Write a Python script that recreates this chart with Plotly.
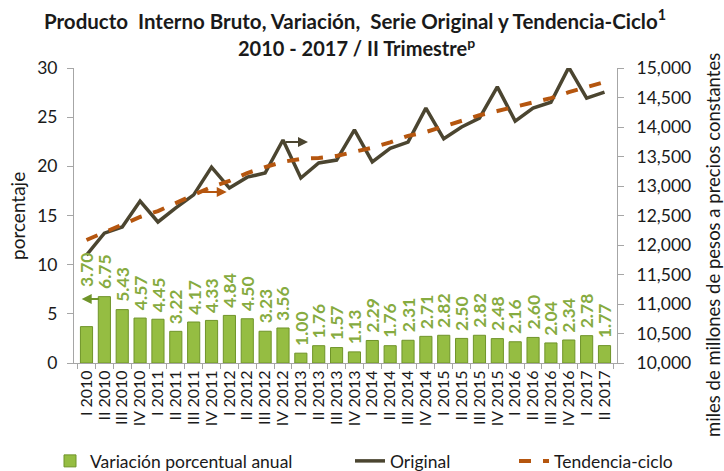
import plotly.graph_objects as go

quarters = ["I", "II", "III", "IV"]
categories = [f"{q} {y}" for y in range(2010, 2018) for q in quarters][:30]

variacion = [3.70, 6.75, 5.43, 4.57, 4.45, 3.22, 4.17, 4.33, 4.84, 4.50,
             3.23, 3.56, 1.00, 1.76, 1.57, 1.13, 2.29, 1.76, 2.31, 2.71,
             2.82, 2.50, 2.82, 2.48, 2.16, 2.60, 2.04, 2.34, 2.78, 1.77]

original = [11830, 12200, 12305, 12745, 12390, 12630, 12850, 13320, 12965, 13150,
            13220, 13780, 13135, 13390, 13440, 13950, 13410, 13640, 13745, 14320,
            13800, 14000, 14150, 14680, 14100, 14320, 14420, 15010, 14490, 14590]

tendencia = [12085, 12220, 12340, 12475, 12575, 12710, 12850, 12985, 13085, 13220,
             13320, 13410, 13460, 13475, 13510, 13580, 13650, 13740, 13850, 13915,
             14015, 14100, 14200, 14270, 14340, 14405, 14490, 14590, 14680, 14760]

left_ticks = [0, 5, 10, 15, 20, 25, 30]
right_ticks = list(range(10000, 15001, 500))

FONT = "Lato"
W, H = 724, 471
L, R, T, B = 74, 107, 68, 108
TXT = "#1a1a1a"
GREEN_TXT = "#86AB40"

fig = go.Figure()

fig.add_trace(go.Bar(
    x=categories, y=variacion, name="Variación porcentual anual",
    marker=dict(color="#95BD42", line=dict(color="#6F9429", width=1)),
    legend="legend",
))

fig.add_trace(go.Scatter(
    x=categories, y=original, name="Original", yaxis="y2", mode="lines",
    line=dict(color="#4B4530", width=3.5), legend="legend2",
))

fig.add_trace(go.Scatter(
    x=categories, y=tendencia, name="Tendencia-ciclo", yaxis="y2", mode="lines",
    line=dict(color="#B5560F", width=4, dash="dash"), legend="legend3",
))

axis_line = "#A6A6A6"
tick_font = dict(family=FONT, size=17.5, color=TXT)

legend_common = dict(orientation="h", xref="container", yref="container",
                     yanchor="middle", y=(H - 461) / H, xanchor="left",
                     font=dict(family=FONT, size=17.5, color=TXT),
                     bgcolor="rgba(0,0,0,0)")

fig.update_layout(
    width=W, height=H,
    margin=dict(l=L, r=R, t=T, b=B, autoexpand=False),
    paper_bgcolor="white", plot_bgcolor="white",
    bargap=0.32,
    xaxis=dict(type="category", tickangle=-90, tickson="boundaries", dtick=1,
               ticks="outside", ticklen=5, tickcolor=axis_line, automargin=False,
               showline=True, linecolor=axis_line, linewidth=1,
               showgrid=False, tickfont=dict(family=FONT, size=16, color=TXT)),
    yaxis=dict(range=[0, 30], tickvals=left_ticks, ticks="outside", ticklen=6,
               tickcolor=axis_line, showline=True, linecolor=axis_line, automargin=False,
               showgrid=False, zeroline=False, tickfont=tick_font,
               ticklabelstandoff=6),
    yaxis2=dict(range=[10000, 15000], tickvals=right_ticks,
                ticktext=[f"{v:,}" for v in right_ticks], automargin=False,
                overlaying="y", side="right", ticks="outside", ticklen=6,
                tickcolor=axis_line, showline=True, linecolor=axis_line,
                showgrid=False, zeroline=False, tickfont=tick_font,
                ticklabelstandoff=9),
    legend=dict(legend_common, x=50 / W),
    legend2=dict(legend_common, x=350 / W),
    legend3=dict(legend_common, x=514 / W),
    showlegend=True,
)

def px_x(px):
    return (px - L) / (W - L - R)

def px_y(py):
    return (H - B - py) / (H - T - B)

annotations = [
    dict(text="<b>Producto  Interno Bruto, Variación,  Serie Original y Tendencia-Ciclo<sup>1</sup></b>",
         x=px_x(355), y=px_y(20), xref="paper", yref="paper", showarrow=False,
         xanchor="center", yanchor="middle",
         font=dict(family=FONT, size=20.5, color=TXT)),
    dict(text="<b>2010 - 2017 / II Trimestre<sup>p</sup></b>",
         x=px_x(356), y=px_y(47), xref="paper", yref="paper", showarrow=False,
         xanchor="center", yanchor="middle",
         font=dict(family=FONT, size=20, color=TXT)),
    dict(text="porcentaje", textangle=-90, x=px_x(17), y=px_y(216),
         xref="paper", yref="paper", showarrow=False,
         xanchor="center", yanchor="middle",
         font=dict(family=FONT, size=19, color=TXT)),
    dict(text="miles de millones de pesos a precios constantes", textangle=-90,
         x=px_x(713), y=px_y(245), xref="paper", yref="paper", showarrow=False,
         xanchor="center", yanchor="middle",
         font=dict(family=FONT, size=18.5, color=TXT)),
    # axis-indicator arrows
    dict(x=-0.27, y=6.5, xref="x", yref="y", ax=19, ay=0,
         showarrow=True, arrowhead=2, arrowsize=1, arrowwidth=2, arrowcolor="#6F9429", text=""),
    dict(x=7.85, y=12898, xref="x", yref="y2", ax=-27, ay=0,
         showarrow=True, arrowhead=2, arrowsize=1, arrowwidth=2, arrowcolor="#B5560F", text=""),
    dict(x=12.4, y=13746, xref="x", yref="y2", ax=-24, ay=0,
         showarrow=True, arrowhead=2, arrowsize=1, arrowwidth=2, arrowcolor="#4B4530", text=""),
]

for i, (cat, v) in enumerate(zip(categories, variacion)):
    shift = 57 if i == 0 else 25   # first label lifted above the axis arrow
    annotations.append(dict(
        text=f"<b>{v:.2f}</b>", x=cat, y=v, xref="x", yref="y", showarrow=False,
        textangle=-90, yanchor="middle", xanchor="center", yshift=shift,
        font=dict(family=FONT, size=17.5, color=GREEN_TXT),
    ))

fig.update_layout(annotations=annotations)

fig.write_html("out.html", config={"displayModeBar": False},
               post_script="document.body.style.margin='0';document.body.style.padding='0';")
